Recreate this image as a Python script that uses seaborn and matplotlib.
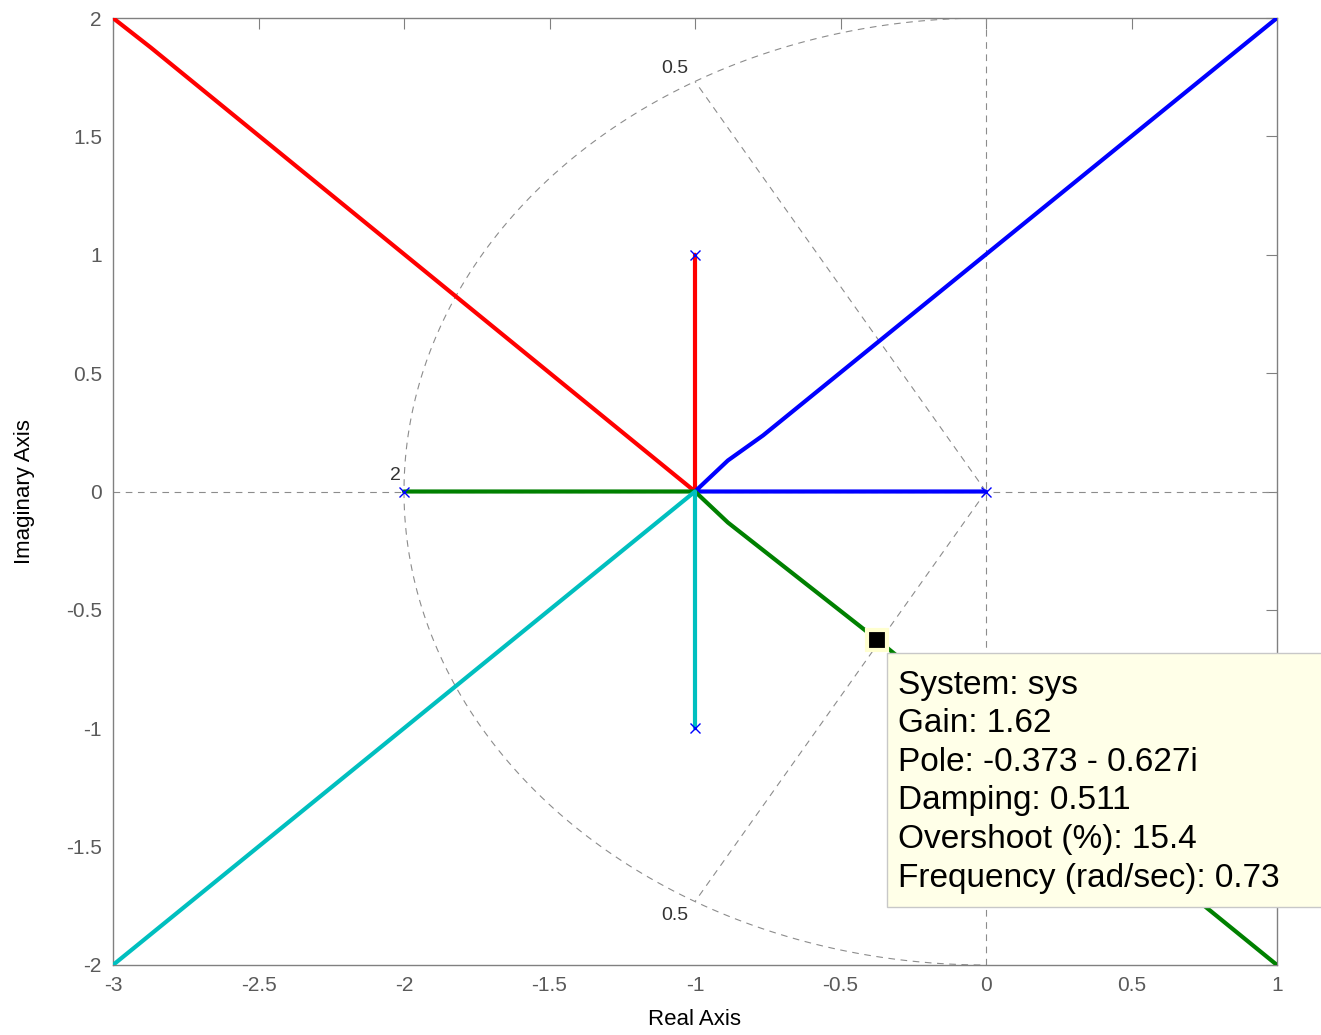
import numpy as np
import pandas as pd
import matplotlib
matplotlib.use("Agg")
import matplotlib.pyplot as plt
import seaborn as sns
from matplotlib.patches import Rectangle

sns.set_theme(style="white")
plt.rcParams['font.family'] = ['Liberation Sans', 'DejaVu Sans']

# ---- data ----
branch_names = ["red", "blue", "green", "cyan"]
red_x = [-1.0, -1.0, -2.87, -3.0]
red_y = [1.0, 0.0, 1.875, 2.0]
blue_x = [0.0, -1.0, -0.887, -0.766, 1.0]
blue_y = [0.0, 0.0, 0.131, 0.237, 2.0]
green_x = [-2.0, -1.0, -0.887, -0.373, 0.87, 1.0]
green_y = [0.0, 0.0, -0.131, -0.627, -1.87, -2.0]
cyan_x = [-1.0, -1.0, -3.0]
cyan_y = [-1.0, 0.0, -2.0]
branch_colors = ["#FF0000", "#0000FF", "#008000", "#00BFBF"]

pole_x = [-2.0, 0.0, -1.0, -1.0]
pole_y = [0.0, 0.0, 1.0, -1.0]

grid_wn = [2.0]
grid_zeta = [0.5]

tip_x, tip_y = -0.373, -0.627
tip_lines = ["System: sys", "Gain: 1.62", "Pole: -0.373 - 0.627i",
             "Damping: 0.511", "Overshoot (%): 15.4", "Frequency (rad/sec): 0.73"]

x_ticks = [-3, -2.5, -2, -1.5, -1, -0.5, 0, 0.5, 1]
x_ticklabels = ["-3", "-2.5", "-2", "-1.5", "-1", "-0.5", "0", "0.5", "1"]
y_ticks = [-2, -1.5, -1, -0.5, 0, 0.5, 1, 1.5, 2]
y_ticklabels = ["-2", "-1.5", "-1", "-0.5", "0", "0.5", "1", "1.5", "2"]

rows = []
for name, xs, ys in zip(branch_names, [red_x, blue_x, green_x, cyan_x],
                        [red_y, blue_y, green_y, cyan_y]):
    for i, (a, b) in enumerate(zip(xs, ys)):
        rows.append(dict(branch=name, order=i, x=a, y=b))
df = pd.DataFrame(rows)

W, H = 1321, 1035
fig = plt.figure(figsize=(W / 100, H / 100), dpi=100)
ax = fig.add_axes([113 / W, 1 - 965 / H, (1277 - 113) / W, (965 - 18) / H])

gcol = "#8c8c8c"
dash = (0, (6, 5))
# s-plane grid
ax.axhline(0, color=gcol, lw=0.8, ls=dash, zorder=1)
ax.axvline(0, color=gcol, lw=0.8, ls=dash, zorder=1)
for wn in grid_wn:
    th = np.linspace(np.pi / 2, 3 * np.pi / 2, 200)
    ax.plot(wn * np.cos(th), wn * np.sin(th), color=gcol, lw=0.8, ls=dash, zorder=1)
    ax.text(-wn - 0.03, 0.03, f"{wn:g}", fontsize=14, color="#333333", ha="center", va="bottom")
for z in grid_zeta:
    ang = np.arccos(z)
    r = grid_wn[0]
    for s in (1, -1):
        ax.plot([0, -r * np.cos(ang)], [0, s * r * np.sin(ang)], color=gcol, lw=0.8,
                ls=dash, zorder=1)
    ax.text(-r * np.cos(ang) - 0.07, r * np.sin(ang) + 0.02, f"{z:g}", fontsize=14,
            color="#333333", ha="center", va="bottom")
    ax.text(-r * np.cos(ang) - 0.07, -r * np.sin(ang) - 0.025, f"{z:g}", fontsize=14,
            color="#333333", ha="center", va="top")

sns.lineplot(data=df, x="x", y="y", hue="branch", units="branch", estimator=None,
             sort=False, palette=dict(zip(branch_names, branch_colors)),
             linewidth=3, legend=False, ax=ax, zorder=3)

ax.plot(pole_x, pole_y, ls="none", marker="x", color="#0000FF", ms=7, mew=1, zorder=4)

ax.plot([tip_x], [tip_y], ls="none", marker="s", ms=15, mfc="black", mec="#FFFFD0",
        mew=3, zorder=6, clip_on=False)

ax.set_xlim(-3, 1)
ax.set_ylim(-2, 2)
ax.set_xticks(x_ticks)
ax.set_xticklabels(x_ticklabels)
ax.set_yticks(y_ticks)
ax.set_yticklabels(y_ticklabels)
ax.tick_params(direction="in", length=8, width=0.8, colors="#808080", labelcolor="#5a5a5a",
               labelsize=15, top=True, right=True, pad=8)
for sp in ax.spines.values():
    sp.set_color("#808080")
    sp.set_linewidth(1)
ax.set_xlabel("Real Axis", fontsize=16, color="black", labelpad=10)
ax.set_ylabel("Imaginary Axis", fontsize=16, color="black", labelpad=22)

# data tip box
fig.patches.append(Rectangle((887 / W, 1 - 907 / H), (1330 - 887) / W, (907 - 653) / H,
                             transform=fig.transFigure, facecolor="#FFFFE8",
                             edgecolor="#c8c8c8", lw=1, zorder=10))
base = 694
for i, line in enumerate(tip_lines):
    fig.text(898 / W, 1 - (base + i * 38.5) / H, line, fontsize=24, color="black",
             va="baseline", ha="left", zorder=11)

fig.savefig("out.png", dpi=100, facecolor="white")
